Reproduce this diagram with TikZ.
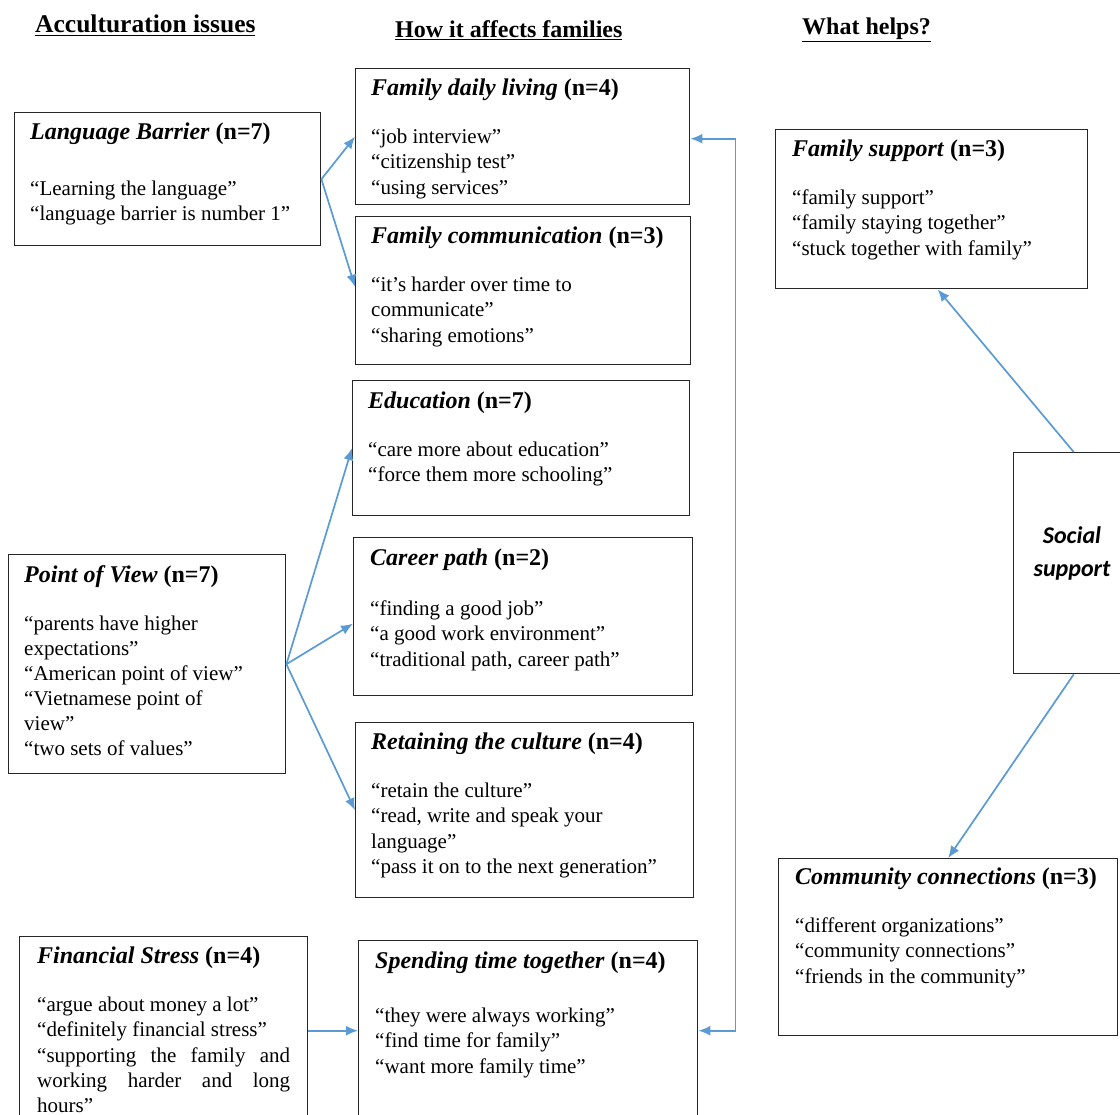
\documentclass[tikz,border=0pt]{standalone}
\usepackage{fontspec}
\setmainfont{Liberation Serif}
\newfontfamily\calibrifont{Carlito}
\usetikzlibrary{arrows.meta}
\definecolor{linkblue}{RGB}{91,155,213}
\newcommand\bodysize{\fontsize{21}{25.1}\selectfont}
\newcommand\titlesize{\fontsize{24}{28}\selectfont}
\newcommand\boxtitle[2]{{\titlesize\textbf{\textit{#1}} \textbf{(#2)}}}

\begin{document}
\begin{tikzpicture}[x=1pt,y=-1pt,
  >={Latex[length=12pt,width=10pt]},
  box/.style={draw=black!85, line width=1.4pt, anchor=north west, inner sep=0pt},
  txt/.style={anchor=north west, inner sep=0pt, align=left, font=\bodysize},
  head/.style={anchor=base west, inner sep=0pt, font=\titlesize\bfseries},
  link/.style={draw=linkblue, line width=1.7pt},
]
\clip (0,0) rectangle (1120,1115);
\fill[white] (0,0) rectangle (1120,1115);

% column headings
\node[head, font=\fontsize{25.5}{30}\selectfont\bfseries] (h1) at (35,33) {\underline{Acculturation issues}};
\node[head] (h2) at (395,38) {\underline{How it affects families}};
\node[head] (h3) at (802,35) {\underline{What helps?}};

% acculturation issues
\node[box, minimum width=306pt, minimum height=133pt] (lb) at (14,112) {};
\node[txt] (lbt) at ([shift={(16,11)}]lb.north west)
  {\boxtitle{Language Barrier}{n=7}\\[30.9pt]
   “Learning the language”\\
   “language barrier is number 1”};

\node[box, minimum width=277pt, minimum height=219pt] (pov) at (8,554) {};
\node[txt] (povt) at ([shift={(16,11)}]pov.north west)
  {\boxtitle{Point of View}{n=7}\\[22.9pt]
   “parents have higher\\
   expectations”\\
   “American point of view”\\
   “Vietnamese point of\\
   view”\\
   “two sets of values”};

\node[box, minimum width=288pt, minimum height=188pt] (fin) at (19,936) {};
\node[txt] (fint) at ([shift={(18,11)}]fin.north west)
  {\boxtitle{Financial Stress}{n=4}\\[22.9pt]
   “argue about money a lot”\\
   “definitely financial stress”\\
   \makebox[253pt][s]{“supporting the family and}\\
   \makebox[253pt][s]{working harder and long}\\
   hours”};

% effects on families
\node[box, minimum width=334pt, minimum height=136pt] (fdl) at (355,68) {};
\node[txt] (fdlt) at ([shift={(16,11)}]fdl.north west)
  {\boxtitle{Family daily living}{n=4}\\[22.9pt]
   “job interview”\\
   “citizenship test”\\
   “using services”};

\node[box, minimum width=335pt, minimum height=148pt] (fc) at (355,216) {};
\node[txt] (fct) at ([shift={(16,11)}]fc.north west)
  {\boxtitle{Family communication}{n=3}\\[22.9pt]
   “it’s harder over time to\\
   communicate”\\
   “sharing emotions”};

\node[box, minimum width=337pt, minimum height=135pt] (edu) at (352,380) {};
\node[txt] (edut) at ([shift={(16,12)}]edu.north west)
  {\boxtitle{Education}{n=7}\\[22.9pt]
   “care more about education”\\
   “force them more schooling”};

\node[box, minimum width=339pt, minimum height=158pt] (car) at (353,537) {};
\node[txt] (cart) at ([shift={(17,12)}]car.north west)
  {\boxtitle{Career path}{n=2}\\[24.9pt]
   “finding a good job”\\
   “a good work environment”\\
   “traditional path, career path”};

\node[box, minimum width=338pt, minimum height=175pt] (ret) at (355,722) {};
\node[txt] (rett) at ([shift={(16,11)}]ret.north west)
  {\boxtitle{Retaining the culture}{n=4}\\[22.9pt]
   “retain the culture”\\
   “read, write and speak your\\
   language”\\
   “pass it on to the next generation”};

\node[box, minimum width=339pt, minimum height=180pt] (spt) at (358,940) {};
\node[txt] (sptt) at ([shift={(17,12)}]spt.north west)
  {\boxtitle{Spending time together}{n=4}\\[28.9pt]
   “they were always working”\\
   “find time for family”\\
   “want more family time”};

% what helps
\node[box, minimum width=312pt, minimum height=159pt] (fsup) at (775,129) {};
\node[txt] (fsupt) at ([shift={(17,11)}]fsup.north west)
  {\boxtitle{Family support}{n=3}\\[22.9pt]
   “family support”\\
   “family staying together”\\
   “stuck together with family”};

\node[box, minimum width=120pt, minimum height=221pt] (soc) at (1013,452) {};
\node[font=\calibrifont\fontsize{24}{33}\selectfont\bfseries\itshape, align=center, inner sep=0pt]
  (soct) at (1072,553) {Social\\support};

\node[box, minimum width=339pt, minimum height=177pt] (com) at (778,858) {};
\node[txt] (comt) at ([shift={(17,10)}]com.north west)
  {\boxtitle{Community connections}{n=3}\\[22.9pt]
   “different organizations”\\
   “community connections”\\
   “friends in the community”};

% connectors
\draw[link, ->] (lb.east) -- (fdl.west);
\draw[link, ->] (lb.east) -- ([yshift=4pt]fc.west);
\draw[link, ->] (pov.east) -- (edu.west);
\draw[link, ->] (pov.east) -- ([yshift=-7pt]car.west);
\draw[link, ->] (pov.east) -- (ret.west);
\draw[link, ->] (fin.east) -- (spt.west);
\draw[link, <->] ([yshift=-2pt]fdl.east) -- ++(45,0) |- (spt.east);
\draw[link, ->] (soc.north) -- ([xshift=6pt]fsup.south);
\draw[link, ->] (soc.south) -- (com.north);
\end{tikzpicture}
\end{document}
